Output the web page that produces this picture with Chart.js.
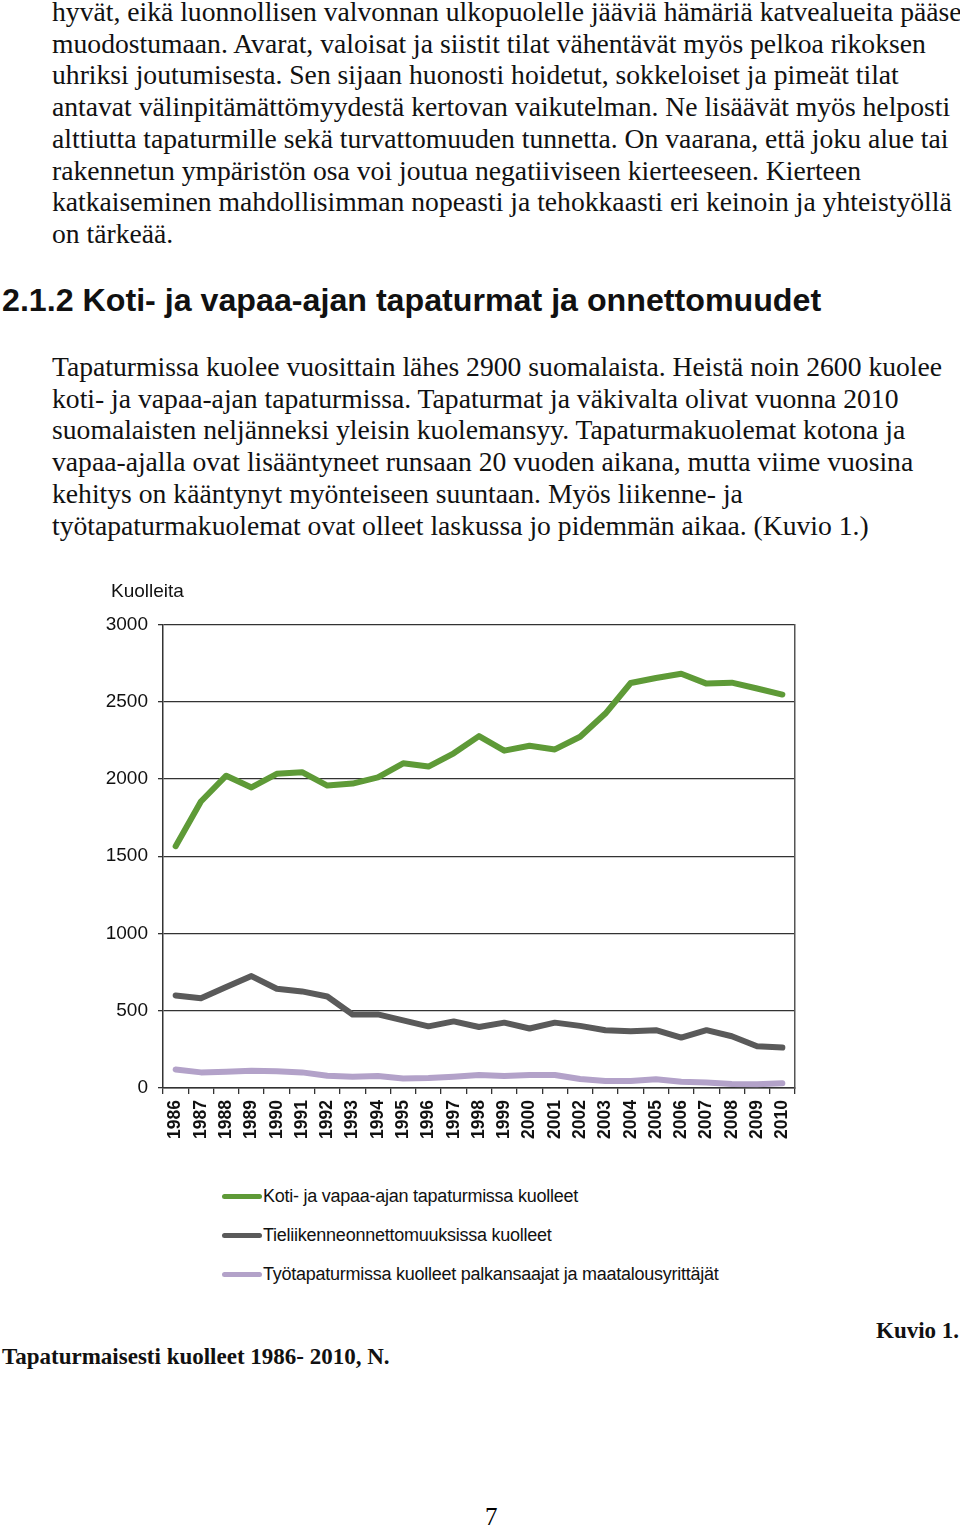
<html>
<head>
<meta charset="utf-8">
<script src="https://cdn.jsdelivr.net/npm/chart.js@4.4.1/dist/chart.umd.min.js"></script>
<style>
  body { margin: 0; width: 960px; height: 1526px; background: #fff; position: relative; overflow: hidden; }
  .txt { position: absolute; left: 52px; font-family: "Liberation Serif", "Times New Roman", serif; font-size: 27.65px; line-height: 31.7px; color: #111; white-space: nowrap; }
  h2 { position: absolute; left: 2px; top: 280px; margin: 0; font-family: "Liberation Sans", Arial, sans-serif; font-size: 32.2px; line-height: 40px; font-weight: bold; color: #111; white-space: nowrap; }
  .cap { position: absolute; font-family: "Liberation Serif", "Times New Roman", serif; font-weight: bold; font-size: 23px; line-height: 28px; color: #111; white-space: nowrap; }
  #chartbox { position: absolute; left: 100px; top: 570px; width: 700px; height: 578px; }
  #legend { position: absolute; left: 222px; top: 1177px; font-family: "Liberation Sans", Arial, sans-serif; font-size: 18px; letter-spacing: -0.25px; color: #111; }
  #legend div { height: 39px; display: flex; align-items: center; }
  #legend span.sw { display: inline-block; width: 40px; height: 5px; border-radius: 3px; margin-right: 1px; }
  #pagenum { position: absolute; left: 485px; top: 1503px; font-family: "Liberation Serif", serif; font-size: 25px; }
</style>
</head>
<body>
<div class="txt" style="top:-4px">
  <div>hyvät, eikä luonnollisen valvonnan ulkopuolelle jääviä hämäriä katvealueita pääse</div>
  <div>muodostumaan. Avarat, valoisat ja siistit tilat vähentävät myös pelkoa rikoksen</div>
  <div>uhriksi joutumisesta. Sen sijaan huonosti hoidetut, sokkeloiset ja pimeät tilat</div>
  <div>antavat välinpitämättömyydestä kertovan vaikutelman. Ne lisäävät myös helposti</div>
  <div>alttiutta tapaturmille sekä turvattomuuden tunnetta. On vaarana, että joku alue tai</div>
  <div>rakennetun ympäristön osa voi joutua negatiiviseen kierteeseen. Kierteen</div>
  <div>katkaiseminen mahdollisimman nopeasti ja tehokkaasti eri keinoin ja yhteistyöllä</div>
  <div>on tärkeää.</div>
</div>
<h2>2.1.2 Koti- ja vapaa-ajan tapaturmat ja onnettomuudet</h2>
<div class="txt" style="top:351px">
  <div>Tapaturmissa kuolee vuosittain lähes 2900 suomalaista. Heistä noin 2600 kuolee</div>
  <div>koti- ja vapaa-ajan tapaturmissa. Tapaturmat ja väkivalta olivat vuonna 2010</div>
  <div>suomalaisten neljänneksi yleisin kuolemansyy. Tapaturmakuolemat kotona ja</div>
  <div>vapaa-ajalla ovat lisääntyneet runsaan 20 vuoden aikana, mutta viime vuosina</div>
  <div>kehitys on kääntynyt myönteiseen suuntaan. Myös liikenne- ja</div>
  <div>työtapaturmakuolemat ovat olleet laskussa jo pidemmän aikaa. (Kuvio 1.)</div>
</div>

<div id="chartbox"><canvas id="chart"></canvas></div>
<div id="legend"></div>

<div class="cap" style="left:876px; top:1317px">Kuvio 1.</div>
<div class="cap" style="left:2px; top:1343px">Tapaturmaisesti kuolleet 1986- 2010, N.</div>
<div id="pagenum">7</div>

<script>
const years = ['1986','1987','1988','1989','1990','1991','1992','1993','1994','1995','1996','1997','1998',
               '1999','2000','2001','2002','2003','2004','2005','2006','2007','2008','2009','2010']
const homeLeisure = [1565, 1854, 2021, 1945, 2033, 2044, 1957, 1970, 2010, 2101, 2080, 2166, 2277,
                     2183, 2215, 2191, 2273, 2423, 2621, 2653, 2681, 2617, 2623, 2585, 2546]
const roadTraffic = [599, 581, 653, 724, 642, 625, 592, 476, 476, 438, 399, 431, 395,
                     423, 385, 423, 402, 374, 367, 374, 326, 374, 335, 270, 262]
const workAccidents = [120, 101, 105, 112, 109, 101, 79, 73, 77, 62, 64, 73, 84,
                       77, 84, 84, 58, 45, 45, 56, 41, 35, 26, 24, 30]
const seriesLabels = ['Koti- ja vapaa-ajan tapaturmissa kuolleet',
                      'Tieliikenneonnettomuuksissa kuolleet',
                      'Työtapaturmissa kuolleet palkansaajat ja maatalousyrittäjät']
const seriesColors = ['#5e9a37', '#5a5a5a', '#b3a2c9']
const yTicks = [0, 500, 1000, 1500, 2000, 2500, 3000]

const font = 'Liberation Sans, Arial, sans-serif'

// nudge the "Kuolleita" title right, the y labels need the room on the left
const titleShift = {
    id: 'titleShift',
    afterLayout(chart) { chart.titleBlock.left += 7 }
}

const ctx = document.getElementById('chart').getContext('2d')
const chart = new Chart(ctx, {
    type: 'line',
    data: {
        labels: years,
        datasets: [homeLeisure, roadTraffic, workAccidents].map((d, i) => ({
            label: seriesLabels[i],
            data: d,
            borderColor: seriesColors[i],
            backgroundColor: seriesColors[i],
            borderWidth: 6,
            borderCapStyle: 'round',
            borderJoinStyle: 'round',
            pointRadius: 0,
            tension: 0
        }))
    },
    plugins: [titleShift],
    options: {
        responsive: true,
        maintainAspectRatio: false,
        animation: false,
        layout: { padding: { left: 4, right: 5, top: 0, bottom: 0 } },
        plugins: {
            legend: { display: false },
            tooltip: { enabled: false },
            title: {
                display: true,
                text: 'Kuolleita',
                align: 'start',
                color: '#111',
                font: { family: font, size: 19, weight: 'normal' },
                padding: { top: 10, bottom: 21.6 }
            }
        },
        scales: {
            x: {
                offset: true,
                grid: { offset: true, drawOnChartArea: false, drawTicks: true, tickLength: 6, color: '#333', lineWidth: 1.3 },
                border: { display: true, color: '#333', width: 1.5 },
                ticks: { autoSkip: false, maxRotation: 90, minRotation: 90, padding: 6, color: '#111',
                         font: { family: font, size: 17.5, weight: 'bold' } },
                afterFit: (scale) => {
                    scale.height = 60
                    scale.paddingLeft = 0
                    scale.paddingRight = 0
                }
            },
            y: {
                min: 0,
                max: 3000,
                afterBuildTicks: (scale) => { scale.ticks = yTicks.map(v => ({ value: v })) },
                grid: { color: '#333', lineWidth: 1.3, tickLength: 5 },
                border: { display: true, color: '#333', width: 1.5 },
                ticks: { padding: 10, color: '#111', font: { family: font, size: 19 },
                         callback: (v) => String(v) },
                afterFit: (scale) => { scale.width = 59 }
            },
            yRight: {
                position: 'right',
                min: 0,
                max: 3000,
                grid: { display: false },
                ticks: { display: false },
                border: { display: true, color: '#555', width: 1.5 },
                afterFit: (scale) => { scale.width = 0 }
            }
        }
    }
})

// legend built from the chart's datasets
const legend = document.getElementById('legend')
chart.data.datasets.forEach(ds => {
    const row = document.createElement('div')
    const sw = document.createElement('span')
    sw.className = 'sw'
    sw.style.background = ds.borderColor
    row.appendChild(sw)
    row.appendChild(document.createTextNode(ds.label))
    legend.appendChild(row)
})
</script>
</body>
</html>
